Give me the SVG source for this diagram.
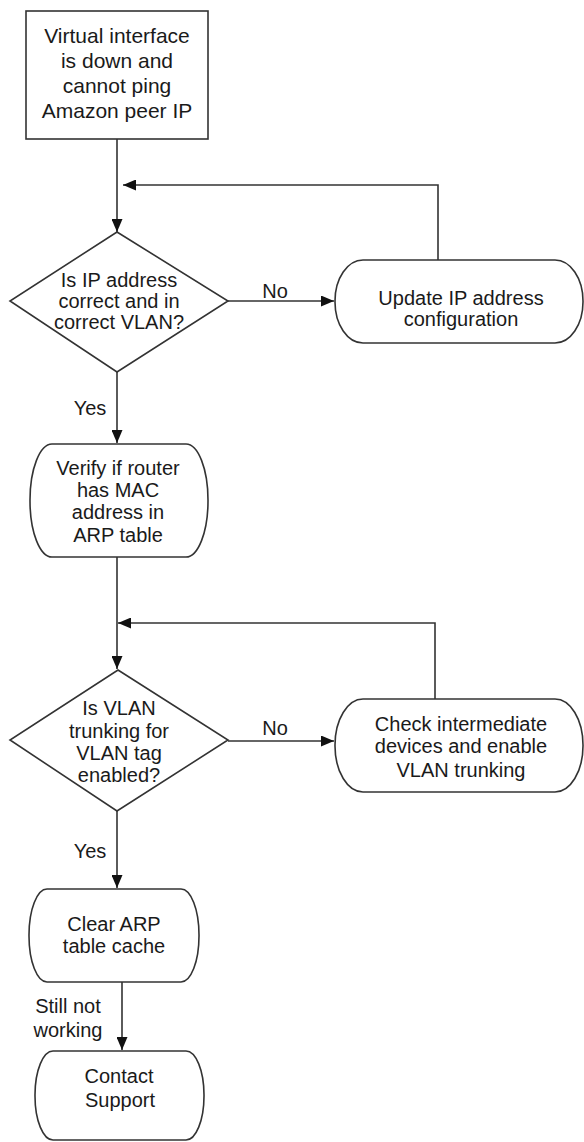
<svg xmlns="http://www.w3.org/2000/svg" width="584" height="1142" viewBox="0 0 584 1142">
<style>
.shape{fill:#ffffff;stroke:#333333;stroke-width:1.6}
.edge{fill:none;stroke:#333333;stroke-width:1.6}
.t{font-family:"Liberation Sans",Arial,sans-serif;font-size:20px;fill:#1a1a1a;text-anchor:middle}
.big{font-size:21px}
</style>
<defs>
<marker id="arr" markerUnits="userSpaceOnUse" markerWidth="13" markerHeight="11" refX="13" refY="5.5" orient="auto">
<path d="M0,0 L13,5.5 L0,11 z" fill="#111111"/>
</marker>
</defs>
<rect width="584" height="1142" fill="#ffffff"/>
<g id="connectors">
<path class="edge" d="M117,139 V232" marker-end="url(#arr)"/>
<path class="edge" d="M438,260 V185 H123" marker-end="url(#arr)"/>
<path class="edge" d="M228,301 H334" marker-end="url(#arr)"/>
<path class="edge" d="M117,372 V443" marker-end="url(#arr)"/>
<path class="edge" d="M117,557 V669" marker-end="url(#arr)"/>
<path class="edge" d="M435,699 V623 H118" marker-end="url(#arr)"/>
<path class="edge" d="M228,741 H334" marker-end="url(#arr)"/>
<path class="edge" d="M117,811 V888" marker-end="url(#arr)"/>
<path class="edge" d="M122,982 V1050" marker-end="url(#arr)"/>
<text class="t" x="275" y="298">No</text>
<text class="t" x="90" y="415">Yes</text>
<text class="t" x="275" y="735">No</text>
<text class="t" x="90" y="858">Yes</text>
<text class="t" x="68" y="1013">Still not</text>
<text class="t" x="68" y="1037">working</text>
</g>
<g id="start">
<rect class="shape" x="26" y="11" width="182" height="128"/>
<text class="t big" x="117" y="43">Virtual interface</text>
<text class="t big" x="117" y="68">is down and</text>
<text class="t big" x="117" y="93">cannot ping</text>
<text class="t big" x="117" y="118">Amazon peer IP</text>
</g>
<g id="decision-ip">
<polygon class="shape" points="117,232 228,301 117,372 10,301"/>
<text class="t" x="119" y="287">Is IP address</text>
<text class="t" x="119" y="308">correct and in</text>
<text class="t" x="119" y="329">correct VLAN?</text>
</g>
<g id="update-ip">
<rect class="shape" x="335" y="260" width="248" height="83" rx="28" ry="41"/>
<text class="t" x="461" y="305">Update IP address</text>
<text class="t" x="461" y="326">configuration</text>
</g>
<g id="verify-mac">
<rect class="shape" x="30" y="444" width="178" height="113" rx="22" ry="56"/>
<text class="t" x="118" y="475">Verify if router</text>
<text class="t" x="118" y="497">has MAC</text>
<text class="t" x="118" y="519">address in</text>
<text class="t" x="118" y="542">ARP table</text>
</g>
<g id="decision-vlan">
<polygon class="shape" points="118,670 228,740 117,811 10,740"/>
<text class="t" x="119" y="715">Is VLAN</text>
<text class="t" x="119" y="738">trunking for</text>
<text class="t" x="119" y="760">VLAN tag</text>
<text class="t" x="119" y="782">enabled?</text>
</g>
<g id="check-trunking">
<rect class="shape" x="335" y="699" width="248" height="93" rx="28" ry="46"/>
<text class="t" x="461" y="731">Check intermediate</text>
<text class="t" x="461" y="753">devices and enable</text>
<text class="t" x="461" y="777">VLAN trunking</text>
</g>
<g id="clear-arp">
<rect class="shape" x="29" y="889" width="170" height="93" rx="18" ry="46"/>
<text class="t" x="114" y="931">Clear ARP</text>
<text class="t" x="114" y="953">table cache</text>
</g>
<g id="contact-support">
<rect class="shape" x="35" y="1051" width="169" height="89" rx="18" ry="44"/>
<text class="t" x="119" y="1083">Contact</text>
<text class="t" x="120" y="1107">Support</text>
</g>
</svg>
